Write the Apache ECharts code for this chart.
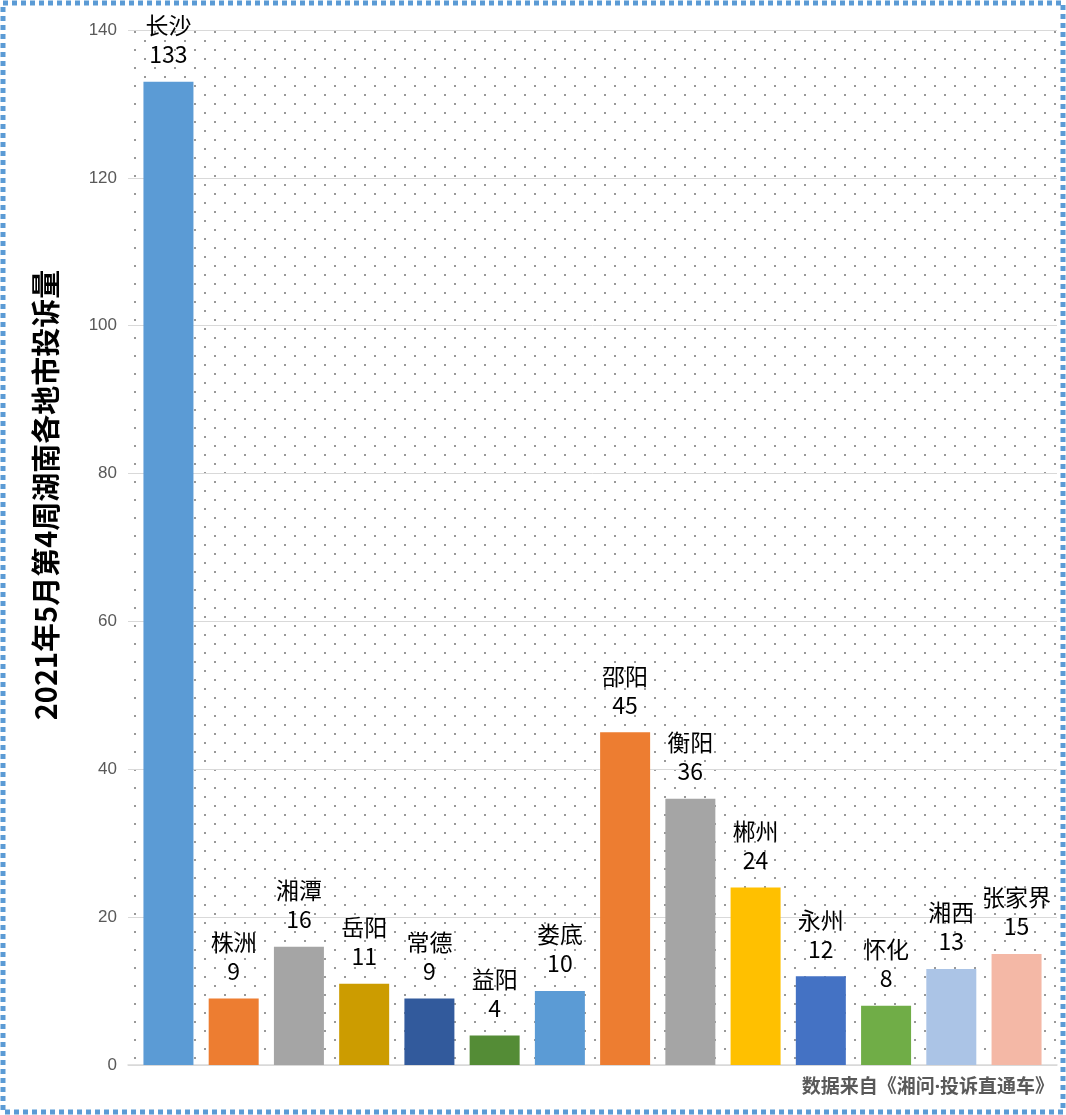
<!DOCTYPE html>
<html><head><meta charset="utf-8">
<script src="https://cdn.jsdelivr.net/npm/echarts@6/dist/echarts.min.js"></script>
<style>html,body{margin:0;padding:0;background:#fff}#c{width:1066px;height:1115px}</style>
</head><body><div id="c"></div>
<script>
const categories = ['长沙','株洲','湘潭','岳阳','常德','益阳','娄底','邵阳','衡阳','郴州','永州','怀化','湘西','张家界'];
const values = [133,9,16,11,9,4,10,45,36,24,12,8,13,15];
const barColors = ['#5b9bd5','#ed7d31','#a5a5a5','#cc9c00','#325a9c','#548c36','#5b9bd5','#ed7d31','#a5a5a5','#ffc000','#4472c4','#70ad47','#abc4e6','#f4b8a6'];
const yTicks = [0,20,40,60,80,100,120,140];
const title = '2021年5月第4周湖南各地市投诉量';
const source = '数据来自《湘问·投诉直通车》';

const cv = document.createElement('canvas');
cv.width = 20; cv.height = 18;
const cx = cv.getContext('2d');
cx.fillStyle = '#fff'; cx.fillRect(0,0,20,18);
cx.fillStyle = '#999999';
cx.fillRect(4,4,2,2);
cx.fillRect(14,13,2,2);

const chart = echarts.init(document.getElementById('c'));
chart.setOption({
  animation: false,
  backgroundColor: '#fff',
  grid: {left:128, right:9, top:30, bottom:50, show:true, borderWidth:0,
    backgroundColor: {image: cv, repeat: 'repeat'}},
  xAxis: {type:'value', min:-0.62, max:categories.length-1+0.62,
    axisLine:{show:true, onZero:false, lineStyle:{color:'#d9d9d9', width:1.5}}, axisTick:{show:false}, axisLabel:{show:false}, splitLine:{show:false}},
  yAxis: {type:'value', min:yTicks[0], max:yTicks[yTicks.length-1], interval:20,
    axisLine:{show:false}, axisTick:{show:false},
    axisLabel:{color:'#595959', fontSize:17, margin:11, fontFamily:'Liberation Sans'},
    splitLine:{lineStyle:{color:'#d9d9d9', width:1}}},
  series: [{type:'bar', data: values.map((v,i)=>({name:categories[i], value:[i,v], itemStyle:{color:barColors[i]}})),
    barWidth:50,
    label:{show:true, position:'top', distance:13, formatter:p=>p.name+'\n'+p.value[1], color:'#000',
      fontSize:23, lineHeight:29, fontFamily:'Noto Sans CJK SC'}}],
  graphic: [
    {type:'rect', shape:{x:3,y:3,width:1060,height:1109}, style:{fill:'none', stroke:'#5b9bd5', lineWidth:5, lineDash:[5,4]}, z:100},
    {type:'text', x:46, y:495, rotation:Math.PI/2, style:{text:title, font:'bold 29px "Noto Sans CJK SC"', fill:'#000', textAlign:'center', textVerticalAlign:'middle'}},
    {type:'text', x:1054, y:1088, style:{text:source, font:'bold 19px "Noto Sans", "Noto Sans CJK SC"', fill:'#595959', textAlign:'right', textVerticalAlign:'middle'}}
  ]
});
</script></body></html>
